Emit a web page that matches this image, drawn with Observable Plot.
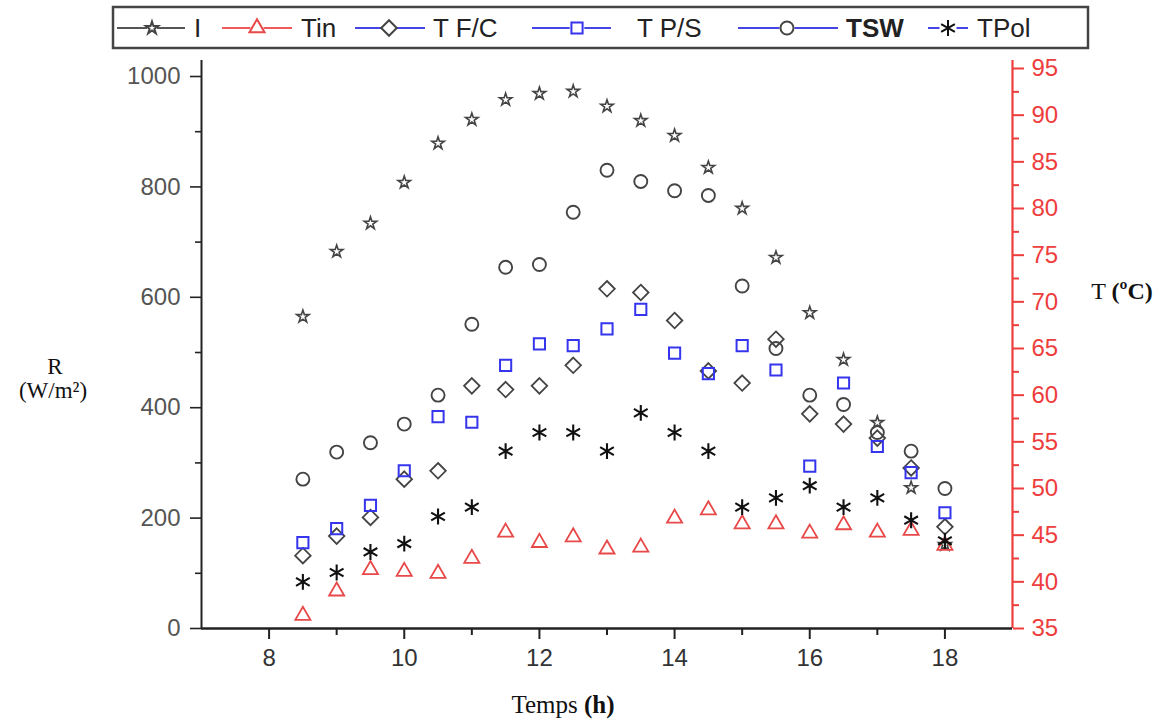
<!DOCTYPE html>
<html>
<head>
<meta charset="utf-8">
<script src="https://cdn.jsdelivr.net/npm/d3@7"></script>
<script src="https://cdn.jsdelivr.net/npm/@observablehq/plot@0.6"></script>
<style>
  html, body { margin: 0; padding: 0; background: #fff; }
  #legend { display: block; }
  #chart svg { display: block; }
</style>
</head>
<body>
<svg id="legend" width="1170" height="52"></svg>
<div id="chart"></div>
<script>
// ---- Data ----
const hours = [8.5, 9, 9.5, 10, 10.5, 11, 11.5, 12, 12.5, 13, 13.5, 14, 14.5, 15, 15.5, 16, 16.5, 17, 17.5, 18];
// Irradiance I (W/m²) – left axis
const I    = [565, 683, 734, 808, 879, 922, 958, 969, 973, 946, 920, 893, 835, 761, 672, 572, 487, 373, 255, 152];
// Temperatures (°C) – right axis
const Tin  = [36.4, 39.0, 41.3, 41.1, 40.9, 42.5, 45.3, 44.2, 44.8, 43.5, 43.7, 46.8, 47.7, 46.2, 46.2, 45.2, 46.1, 45.3, 45.5, 43.9];
const TFC  = [42.8, 44.9, 46.9, 51.0, 51.9, 61.0, 60.6, 61.0, 63.2, 71.4, 71.0, 68.0, 62.6, 61.3, 66.0, 58.0, 56.9, 55.4, 52.2, 45.9];
const TPS  = [44.2, 45.7, 48.2, 51.9, 57.7, 57.1, 63.2, 65.5, 65.3, 67.1, 69.2, 64.5, 62.3, 65.3, 62.7, 52.4, 61.3, 54.5, 51.7, 47.4];
const TSW  = [51.0, 53.9, 54.9, 56.9, 60.0, 67.6, 73.7, 74.0, 79.6, 84.1, 82.9, 81.9, 81.4, 71.7, 65.0, 60.0, 59.0, 56.0, 54.0, 50.0];
const TPol = [40.0, 41.0, 43.2, 44.1, 47.0, 48.0, 54.0, 56.0, 56.0, 54.0, 58.1, 56.0, 54.0, 48.0, 49.0, 50.3, 48.0, 49.0, 46.6, 44.4];

const xMajor = [8, 10, 12, 14, 16, 18];
const xMinor = [9, 11, 13, 15, 17];
const rMajor = [0, 200, 400, 600, 800, 1000];
const rMinor = [100, 300, 500, 700, 900];
const tMajor = [35, 40, 45, 50, 55, 60, 65, 70, 75, 80, 85, 90, 95];
const tMinor = [37.5, 42.5, 47.5, 52.5, 57.5, 62.5, 67.5, 72.5, 77.5, 82.5, 87.5, 92.5];

const legendItems = [
  {name: "I",     symbol: "star",     line: "#555",    mark: "#444",    lx: [117, 185], sx: 152, tx: 194, bold: false},
  {name: "Tin",   symbol: "triangle", line: "#ef5a5a", mark: "#e84848", lx: [222, 292], sx: 257, tx: 301, bold: false},
  {name: "T F/C", symbol: "diamond2", line: "#4545e6", mark: "#444",    lx: [355, 425], sx: 389, tx: 433, bold: false},
  {name: "T P/S", symbol: "square",   line: "#4545e6", mark: "#3535ee", lx: [532, 611], sx: 577, tx: 637, bold: false},
  {name: "TSW",   symbol: "circle",   line: "#4545e6", mark: "#444",    lx: [738, 838], sx: 787, tx: 846, bold: true},
  {name: "TPol",  symbol: "asterisk", line: "#4545e6", mark: "#111",    lx: [928, 968], sx: 948, tx: 977, bold: false}
];

// ---- Scales relation between the two y axes ----
const R_PER_C = 1014.5 / 60;             // left-axis units per °C
const tToR = t => (t - 35) * R_PER_C;
const rToT = r => 35 + r / R_PER_C;

const RED = "#ee3d3d";
const GRAY = "#444";
const BLUE = "#3535ee";

const chart = Plot.plot({
  width: 1170,
  height: 670,
  marginLeft: 201,
  marginRight: 158,
  marginTop: 8,
  marginBottom: 94,
  x: {domain: [7, 19]},
  y: {domain: [0, 1029]},
  style: {fontFamily: "'Liberation Sans', Arial, sans-serif", background: "#fff", overflow: "visible"},
  marks: [
    // frame lines
    Plot.ruleX([7], {stroke: "#222", strokeWidth: 2}),
    Plot.ruleX([19], {stroke: RED, strokeWidth: 2.2}),
    Plot.ruleY([0], {stroke: "#222", strokeWidth: 2.5}),
    // bottom axis
    Plot.axisX({ticks: xMajor, tickSize: 11, tickPadding: 9, fontSize: 24, stroke: "#222", strokeWidth: 2, fill: "#333", label: null}),
    Plot.axisX({ticks: xMinor, tickSize: 7, tickFormat: () => "", stroke: "#222", strokeWidth: 2, label: null}),
    // left axis
    Plot.axisY({anchor: "left", ticks: rMajor, tickFormat: d => String(d), tickSize: 11, tickPadding: 10, fontSize: 24, stroke: "#222", strokeWidth: 1.6, fill: "#555", label: null}),
    Plot.axisY({anchor: "left", ticks: rMinor, tickSize: 6, tickFormat: () => "", stroke: "#222", strokeWidth: 1.6, label: null}),
    // right axis (°C)
    Plot.axisY({anchor: "right", ticks: tMajor.map(tToR), tickFormat: d => String(Math.round(rToT(d))), tickSize: 11, tickPadding: 8, fontSize: 24, stroke: RED, strokeWidth: 2, fill: RED, label: null}),
    Plot.axisY({anchor: "right", ticks: tMinor.map(tToR), tickSize: 6, tickFormat: () => "", stroke: RED, strokeWidth: 2, label: null}),
    // series
    Plot.dot(hours, {x: d => d, y: (d, i) => I[i], symbol: "star", r: 3.9, fill: "none", stroke: GRAY, strokeWidth: 1.6}),
    Plot.dot(hours, {x: d => d, y: (d, i) => tToR(Tin[i]), symbol: "triangle", r: 5.6, fill: "none", stroke: "#e84848", strokeWidth: 1.8}),
    Plot.dot(hours, {x: d => d, y: (d, i) => tToR(TFC[i]), symbol: "diamond2", r: 7, fill: "none", stroke: GRAY, strokeWidth: 1.8}),
    Plot.dot(hours, {x: d => d, y: (d, i) => tToR(TPS[i]), symbol: "square", r: 6.3, fill: "none", stroke: BLUE, strokeWidth: 2}),
    Plot.dot(hours, {x: d => d, y: (d, i) => tToR(TSW[i]), symbol: "circle", r: 6.5, fill: "none", stroke: GRAY, strokeWidth: 1.9}),
    Plot.dot(hours, {x: d => d, y: (d, i) => tToR(TPol[i]), symbol: "asterisk", r: 7.5, fill: "none", stroke: "#111", strokeWidth: 2.1})
  ]
});
document.getElementById("chart").appendChild(chart);

// ---- Axis titles (serif) ----
const svg = d3.select(chart);
const serif = "'Liberation Serif', 'Times New Roman', serif";
svg.append("text").attr("x", 55).attr("y", 322).attr("text-anchor", "middle")
  .attr("font-family", serif).attr("font-size", 23).attr("fill", "#111").text("R");
svg.append("text").attr("x", 53).attr("y", 346).attr("text-anchor", "middle")
  .attr("font-family", serif).attr("font-size", 23).attr("fill", "#111").text("(W/m²)");
const tt = svg.append("text").attr("x", 1122).attr("y", 247).attr("text-anchor", "middle")
  .attr("font-family", serif).attr("font-size", 24).attr("fill", "#111");
tt.append("tspan").text("T ");
tt.append("tspan").attr("font-weight", "bold").text("(ºC)");
const xt = svg.append("text").attr("x", 563).attr("y", 661).attr("text-anchor", "middle")
  .attr("font-family", serif).attr("font-size", 25).attr("fill", "#111");
xt.append("tspan").text("Temps ");
xt.append("tspan").attr("font-weight", "bold").text("(h)");

// ---- Legend (above the chart) ----
const lg = d3.select("#legend");
lg.append("rect").attr("x", 113).attr("y", 7).attr("width", 975).attr("height", 41)
  .attr("fill", "#fff").attr("stroke", "#444").attr("stroke-width", 2.5);
const symMap = {star: d3.symbolStar, triangle: d3.symbolTriangle, diamond2: d3.symbolDiamond2, square: d3.symbolSquare, circle: d3.symbolCircle, asterisk: d3.symbolAsterisk};
const symR = {star: 3.9, triangle: 5.6, diamond2: 7, square: 6.3, circle: 6.5, asterisk: 7.5};
legendItems.forEach(it => {
  lg.append("line").attr("x1", it.lx[0]).attr("x2", it.lx[1]).attr("y1", 28).attr("y2", 28)
    .attr("stroke", it.line).attr("stroke-width", 2.2);
  const r = symR[it.symbol];
  lg.append("rect").attr("x", it.sx - r - 1).attr("y", 28 - r).attr("width", 2 * r + 2).attr("height", 2 * r).attr("fill", "#fff");
  lg.append("path").attr("transform", `translate(${it.sx},28)`)
    .attr("d", d3.symbol(symMap[it.symbol], Math.PI * r * r)())
    .attr("fill", "none").attr("stroke", it.mark).attr("stroke-width", 2);
  lg.append("text").attr("x", it.tx).attr("y", 37).attr("font-family", "'Liberation Sans', Arial, sans-serif")
    .attr("font-size", 26).attr("font-weight", it.bold ? "bold" : "normal").attr("fill", "#222").text(it.name);
});
</script>
</body>
</html>
